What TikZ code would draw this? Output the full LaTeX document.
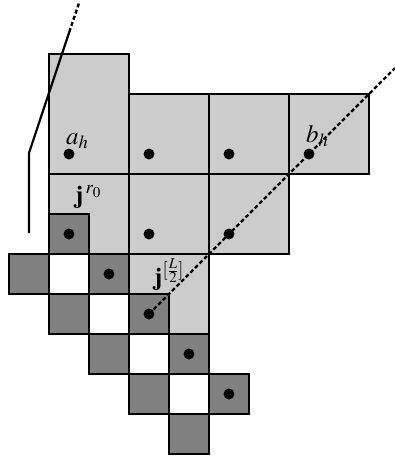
\documentclass[tikz,border=0pt]{standalone}
\usepackage{mathptmx}
\usepackage{fontspec}
\setmainfont{Liberation Serif}
\definecolor{lightc}{HTML}{CCCCCC}
\definecolor{darkc}{HTML}{808080}
\begin{document}
\begin{tikzpicture}[x=1pt,y=-1pt,
  lightbox/.style={fill=lightc,draw=black,line width=2pt},
  darkbox/.style={fill=darkc,draw=black,line width=2pt},
  whitebox/.style={fill=white,draw=black,line width=2pt},
  dot/.style={circle,fill=black,inner sep=0pt,minimum size=11pt},
  lbl/.style={inner sep=0pt,anchor=base west,font=\fontsize{25}{29}\selectfont},
  dashline/.style={line width=2.4pt,dash pattern=on 4pt off 2.5pt},
  solidline/.style={line width=2.2pt}]
\useasboundingbox (0,0) rectangle (395,456);
% light large cells
\draw[lightbox] (49,54) rectangle (129,174);
\foreach \x/\y in {129/94,209/94,289/94,49/174,129/174,209/174,129/254}
  \draw[lightbox] (\x,\y) rectangle ++(80,80);
% dark small cells
\foreach \x/\y in {49/214,9/254,89/254,49/294,129/294,89/334,169/334,129/374,209/374,169/414}
  \draw[darkbox] (\x,\y) rectangle ++(40,40);
% white small cells
\foreach \x/\y in {49/254,89/294,129/334,169/374}
  \draw[whitebox] (\x,\y) rectangle ++(40,40);
% dots
\node[dot] (d1) at (69,154) {};
\node[dot] (d2) at (149,154) {};
\node[dot] (d3) at (229,154) {};
\node[dot] (d4) at (309,154) {};
\node[dot] (d5) at (69,234) {};
\node[dot] (d6) at (149,234) {};
\node[dot] (d7) at (229,234) {};
\node[dot] (d8) at (149,314) {};
\node[dot] (d9) at (109,274) {};
\node[dot] (d10) at (189,354) {};
\node[dot] (d11) at (229,394) {};
% diagonal dashed line
\coordinate (e1) at (395,68);
\draw[dashline] (d8.center) -- (e1);
% left polyline
\coordinate (p0) at (29,233);
\coordinate (p1) at (29,153);
\coordinate (p2) at (69.3,32);
\coordinate (p3) at (79,3);
\draw[solidline] (p0) -- (p1) -- (p2);
\draw[dashline] (p2) -- (p3);
% labels
\node[lbl] (la) at (66,144) {$a_h$};
\node[lbl] (lb) at (306,142) {$b_h$};
\node[lbl] (lj1) at (75,203) {$\mathbf{j}^{\,r_0}$};
\node[lbl] (lj2) at (154,285) {$\mathbf{j}^{[\frac{L}{2}]}$};
\end{tikzpicture}
\end{document}
